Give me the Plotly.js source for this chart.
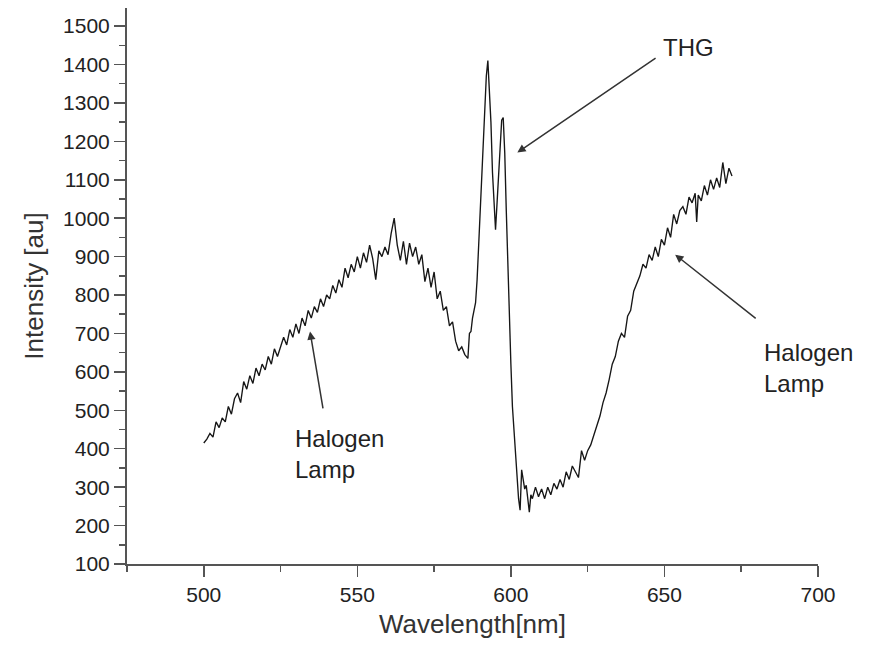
<!DOCTYPE html>
<html>
<head>
<meta charset="utf-8">
<script src="https://cdn.plot.ly/plotly-3.0.1.min.js"></script>
<style>html,body{margin:0;padding:0;background:#fff;}#chart{width:876px;height:648px;}</style>
</head>
<body>
<div id="chart"></div>
<script>
// Wavelength (nm)
var wavelength = [
500,501,502,503,504,505,506,507,508,509,
510,511,512,513,514,515,516,517,518,519,
520,521,522,523,524,525,526,527,528,529,
530,531,532,533,534,535,536,537,538,539,
540,541,542,543,544,545,546,547,548,549,
550,551,552,553,554,555,556,557,558,559,
560,561,562,563,564,565,566,567,568,569,
570,571,572,573,574,575,576,577,578,579,
580,581,582,583,584,585,586,586.5,587,587.5,
588,588.5,589,589.5,590,590.5,591,591.5,592,592.5,
593,593.5,594,594.5,595,595.5,596,596.5,597,597.5,
598,598.5,599,599.5,600,600.5,601,601.5,602,602.5,
603,603.5,604,604.5,605,605.5,606,606.5,607,608,
609,610,611,612,613,614,615,616,617,618,
619,620,621,622,623,624,625,626,627,628,
629,630,631,632,633,634,635,636,637,638,
639,640,641,642,643,644,645,646,647,648,
649,650,651,652,653,654,655,656,657,658,
659,660,660.5,661,662,663,664,665,666,667,
668,669,670,671,672
];
// Intensity (au)
var intensity = [
415,425,440,430,470,455,480,470,510,490,
530,545,520,575,555,590,570,610,590,620,
605,640,620,660,640,665,690,670,710,690,
725,700,740,720,760,740,770,755,790,770,
800,790,825,805,840,820,870,845,880,860,
900,870,910,885,930,895,840,915,900,925,
905,960,1000,930,890,940,880,935,900,925,
880,905,835,870,820,860,790,810,760,770,
720,730,680,655,665,645,635,700,705,740,
760,780,840,930,1000,1100,1210,1290,1370,1410,
1330,1250,1120,1030,970,1040,1120,1200,1255,1262,
1170,1020,870,740,620,510,450,400,355,270,
240,345,320,295,305,265,235,280,270,300,
275,295,270,300,280,310,295,320,300,340,
320,355,340,325,395,370,395,410,435,460,
485,520,545,580,620,640,680,700,690,745,
760,810,830,850,880,870,905,890,925,900,
945,930,975,950,1010,985,1020,1030,1010,1055,
1040,1065,990,1060,1045,1085,1060,1100,1075,1105,
1080,1145,1090,1130,1110
];
var annoLabels = ["THG", "Halogen<br>Lamp", "Halogen<br>Lamp"];

var trace = {
  x: wavelength, y: intensity, type: 'scatter', mode: 'lines',
  line: {color: '#161616', width: 1.35}, hoverinfo: 'skip'
};

var fontFam = 'Liberation Sans, Arial, sans-serif';
var arrowBase = {showarrow: true, text: '', arrowhead: 2, arrowsize: 1.1, arrowwidth: 1.5,
  arrowcolor: '#333', axref: 'x', ayref: 'y', xref: 'x', yref: 'y'};

var layout = {
  width: 876, height: 648,
  margin: {l: 127, r: 58, t: 8, b: 84},
  paper_bgcolor: '#ffffff', plot_bgcolor: '#ffffff',
  showlegend: false,
  font: {family: fontFam, color: '#222'},
  xaxis: {
    range: [475, 700], tickvals: [500, 550, 600, 650, 700],
    showgrid: false, zeroline: false, showline: true, linecolor: '#555', linewidth: 2,
    ticks: 'outside', ticklen: 11, tickwidth: 1.5, tickcolor: '#555',
    minor: {tickvals: [475, 525, 575, 625, 675], ticks: 'outside', ticklen: 6, tickwidth: 1.5, tickcolor: '#555', showgrid: false},
    tickfont: {size: 21, family: fontFam, color: '#222'},
    title: {text: 'Wavelength[nm]', font: {size: 26, family: fontFam, color: '#333'}, standoff: 10},
    fixedrange: true
  },
  yaxis: {
    range: [100, 1547], dtick: 100, tick0: 100,
    showgrid: false, zeroline: false, showline: true, linecolor: '#555', linewidth: 2,
    ticks: 'outside', ticklen: 11, tickwidth: 1.5, tickcolor: '#555',
    minor: {dtick: 50, tick0: 100, ticks: 'outside', ticklen: 6, tickwidth: 1.5, tickcolor: '#555', showgrid: false},
    tickfont: {size: 21, family: fontFam, color: '#222'},
    title: {text: 'Intensity [au]', font: {size: 26, family: fontFam, color: '#333'}, standoff: 12},
    fixedrange: true
  },
  annotations: [
    Object.assign({}, arrowBase, {x: 602.1, y: 1171, ax: 647.6, ay: 1419}),
    Object.assign({}, arrowBase, {x: 534.6, y: 705, ax: 538.9, ay: 501}),
    Object.assign({}, arrowBase, {x: 653.5, y: 905, ax: 680.2, ay: 736}),
    {x: 657.7, y: 1445, xref: 'x', yref: 'y', text: annoLabels[0], showarrow: false,
      xanchor: 'center', yanchor: 'middle', font: {size: 24, family: fontFam, color: '#222'}},
    {x: 529.1, y: 468, xref: 'x', yref: 'y', text: annoLabels[1], showarrow: false,
      xanchor: 'left', yanchor: 'top', align: 'left', font: {size: 24, family: fontFam, color: '#222'}},
    {x: 681.8, y: 692, xref: 'x', yref: 'y', text: annoLabels[2], showarrow: false,
      xanchor: 'left', yanchor: 'top', align: 'left', font: {size: 24, family: fontFam, color: '#222'}}
  ]
};

Plotly.newPlot('chart', [trace], layout, {staticPlot: true, displayModeBar: false});
</script>
</body>
</html>
